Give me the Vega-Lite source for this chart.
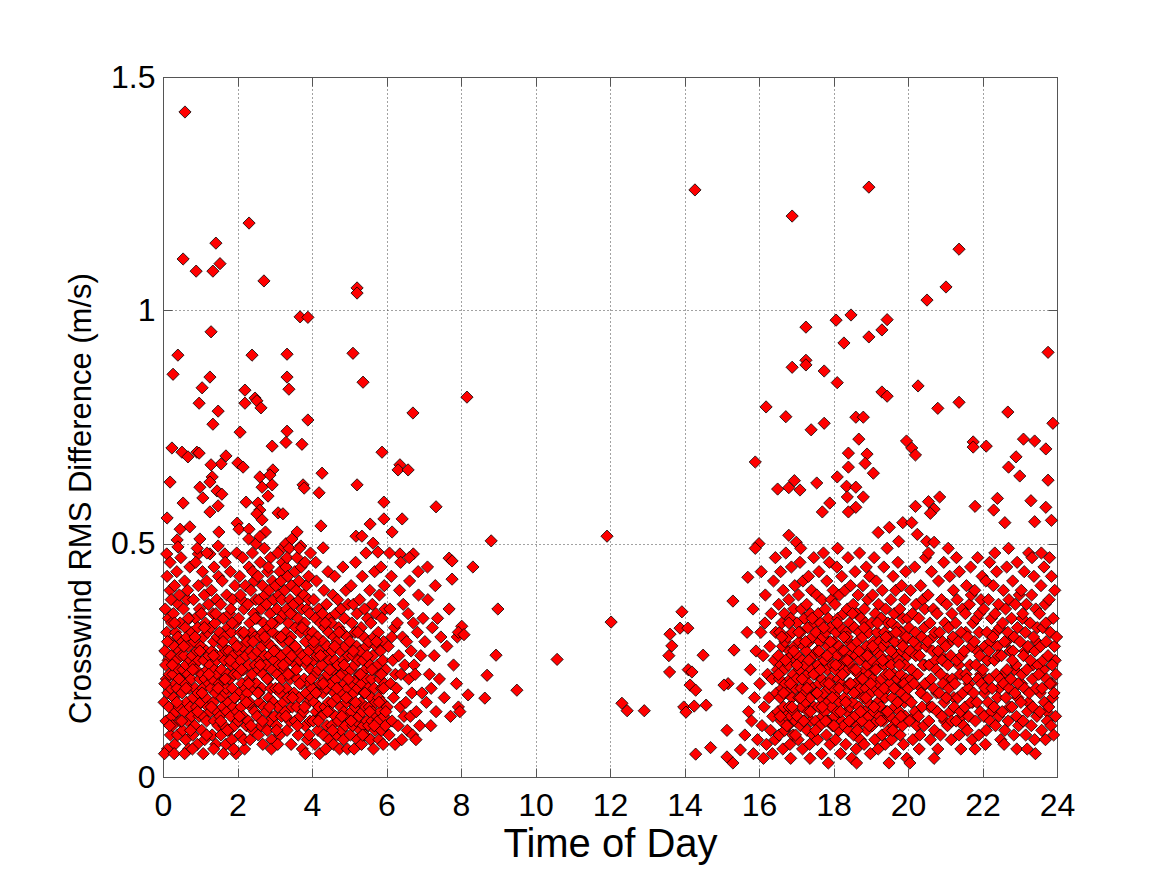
{
  "$schema": "https://vega.github.io/schema/vega-lite/v6.json",
  "width": 894,
  "height": 700,
  "autosize": {"type": "none"},
  "padding": {"left": 163, "top": 77, "right": 96, "bottom": 97},
  "background": "#ffffff",
  "config": {
    "font": "Liberation Sans",
    "view": {"stroke": "#555555", "strokeWidth": 1},
    "axis": {
      "labelFont": "Liberation Sans",
      "titleFont": "Liberation Sans",
      "labelFontSize": 32,
      "labelColor": "#000000",
      "titleColor": "#000000",
      "titleFontWeight": "normal",
      "domainColor": "#555555",
      "tickColor": "#555555",
      "tickSize": -9,
      "labelFlush": false,
      "labelOverlap": false,
      "gridColor": "#444444",
      "gridDash": [1, 3],
      "gridWidth": 1
    }
  },
  "data": {"values": [
{"t":0.59,"v":1.425},{"t":0.54,"v":1.11},{"t":0.89,"v":1.084},{"t":1.34,"v":1.084},{"t":1.42,"v":1.144},{"t":1.53,"v":1.10},{"t":1.29,"v":0.954},{"t":2.31,"v":1.187},{"t":2.71,"v":1.063},{"t":0.40,"v":0.904},{"t":2.39,"v":0.904},{"t":3.33,"v":0.906},{"t":3.68,"v":0.986},{"t":3.89,"v":0.985},{"t":5.21,"v":1.048},{"t":5.21,"v":1.037},{"t":5.10,"v":0.908},
{"t":0.27,"v":0.863},{"t":1.26,"v":0.857},{"t":3.33,"v":0.857},{"t":5.37,"v":0.846},{"t":1.05,"v":0.834},{"t":2.2,"v":0.829},{"t":3.38,"v":0.831},{"t":2.47,"v":0.812},{"t":2.52,"v":0.806},{"t":2.63,"v":0.791},{"t":0.97,"v":0.801},{"t":2.2,"v":0.801},{"t":1.48,"v":0.784},{"t":8.16,"v":0.814},{"t":1.34,"v":0.756},{"t":3.89,"v":0.765},{"t":6.71,"v":0.78},{"t":2.07,"v":0.739},{"t":3.33,"v":0.741},{"t":3.30,"v":0.717},{"t":2.93,"v":0.709},{"t":3.73,"v":0.713},{"t":0.24,"v":0.705},{"t":0.51,"v":0.696},{"t":0.67,"v":0.686},{"t":0.91,"v":0.696},{"t":0.97,"v":0.694},{"t":5.88,"v":0.696},{"t":1.69,"v":0.688},{"t":1.56,"v":0.671},{"t":1.29,"v":0.669},{"t":2.01,"v":0.673},{"t":2.15,"v":0.664},{"t":6.36,"v":0.669},{"t":6.31,"v":0.658},{"t":6.58,"v":0.658},{"t":4.27,"v":0.651},{"t":2.6,"v":0.643},{"t":2.95,"v":0.658},{"t":2.87,"v":0.647},{"t":1.32,"v":0.643},{"t":1.26,"v":0.632},{"t":0.19,"v":0.632},{"t":2.66,"v":0.621},{"t":2.93,"v":0.626},{"t":0.99,"v":0.621},{"t":3.76,"v":0.626},{"t":3.79,"v":0.619},{"t":5.21,"v":0.626},{"t":1.45,"v":0.613},{"t":1.58,"v":0.606},{"t":4.19,"v":0.609},{"t":1.07,"v":0.598},{"t":2.82,"v":0.602},{"t":0.54,"v":0.587},{"t":2.23,"v":0.589},{"t":2.55,"v":0.587},{"t":2.6,"v":0.572},{"t":1.48,"v":0.581},{"t":1.26,"v":0.568},{"t":5.93,"v":0.589},{"t":7.33,"v":0.579},{"t":3.09,"v":0.566},{"t":3.22,"v":0.564},{"t":0.11,"v":0.555},{"t":2.52,"v":0.564},{"t":2.66,"v":0.551},{"t":5.93,"v":0.553},{"t":6.42,"v":0.553},{"t":5.56,"v":0.542},{"t":0.46,"v":0.531},{"t":0.72,"v":0.536},{"t":4.24,"v":0.538},{"t":1.99,"v":0.544},{"t":2.04,"v":0.531},{"t":2.31,"v":0.531},{"t":1.5,"v":0.525},{"t":5.18,"v":0.516},{"t":5.34,"v":0.516},{"t":6.15,"v":0.525},{"t":0.99,"v":0.51},{"t":0.38,"v":0.508},{"t":0.40,"v":0.493},{"t":5.64,"v":0.501},{"t":5.77,"v":0.482},{"t":1.48,"v":0.495},{"t":4.3,"v":0.491},{"t":3.2,"v":0.49},{"t":3.3,"v":0.5},{"t":3.46,"v":0.51},{"t":3.6,"v":0.525},{"t":3.7,"v":0.495},{"t":2.3,"v":0.51},{"t":2.5,"v":0.5},{"t":2.75,"v":0.525},{"t":2.6,"v":0.515},{"t":0.1,"v":0.478},{"t":1.26,"v":0.478},{"t":1.66,"v":0.478},{"t":0.95,"v":0.478},{"t":6.36,"v":0.478},{"t":6.72,"v":0.478},{"t":7.68,"v":0.469},
{"t":0.03,"v":0.16},{"t":0.05,"v":0.27},{"t":0.06,"v":0.36},{"t":0.08,"v":0.12},{"t":0.09,"v":0.21},{"t":0.10,"v":0.31},{"t":0.11,"v":0.43},{"t":0.12,"v":0.06},{"t":0.13,"v":0.18},{"t":0.14,"v":0.25},{"t":0.15,"v":0.34},{"t":0.16,"v":0.15},{"t":0.17,"v":0.22},{"t":0.18,"v":0.29},{"t":0.19,"v":0.40},{"t":0.20,"v":0.09},{"t":0.21,"v":0.19},{"t":0.22,"v":0.26},{"t":0.23,"v":0.33},{"t":0.24,"v":0.13},{"t":0.04,"v":0.05},{"t":0.07,"v":0.24},{"t":0.19,"v":0.46},{"t":0.22,"v":0.38},
{"t":0.26,"v":0.11},{"t":0.27,"v":0.22},{"t":0.28,"v":0.35},{"t":0.29,"v":0.17},{"t":0.30,"v":0.28},{"t":0.31,"v":0.41},{"t":0.32,"v":0.07},{"t":0.33,"v":0.20},{"t":0.34,"v":0.31},{"t":0.35,"v":0.14},{"t":0.36,"v":0.25},{"t":0.37,"v":0.44},{"t":0.38,"v":0.19},{"t":0.39,"v":0.09},{"t":0.40,"v":0.30},{"t":0.41,"v":0.37},{"t":0.42,"v":0.23},{"t":0.43,"v":0.15},{"t":0.44,"v":0.27},{"t":0.45,"v":0.12},{"t":0.46,"v":0.33},{"t":0.47,"v":0.21},{"t":0.48,"v":0.47},{"t":0.49,"v":0.26},{"t":0.30,"v":0.05},{"t":0.44,"v":0.39},
{"t":0.51,"v":0.18},{"t":0.52,"v":0.29},{"t":0.53,"v":0.10},{"t":0.54,"v":0.23},{"t":0.55,"v":0.36},{"t":0.56,"v":0.14},{"t":0.57,"v":0.26},{"t":0.58,"v":0.42},{"t":0.59,"v":0.20},{"t":0.60,"v":0.32},{"t":0.61,"v":0.08},{"t":0.62,"v":0.24},{"t":0.63,"v":0.16},{"t":0.64,"v":0.30},{"t":0.65,"v":0.38},{"t":0.66,"v":0.12},{"t":0.67,"v":0.22},{"t":0.68,"v":0.28},{"t":0.69,"v":0.06},{"t":0.70,"v":0.19},{"t":0.71,"v":0.34},{"t":0.72,"v":0.45},{"t":0.73,"v":0.15},{"t":0.74,"v":0.25},{"t":0.58,"v":0.05},{"t":0.66,"v":0.40},
{"t":0.76,"v":0.21},{"t":0.77,"v":0.13},{"t":0.78,"v":0.31},{"t":0.79,"v":0.26},{"t":0.80,"v":0.09},{"t":0.81,"v":0.17},{"t":0.82,"v":0.38},{"t":0.83,"v":0.24},{"t":0.84,"v":0.29},{"t":0.85,"v":0.11},{"t":0.86,"v":0.19},{"t":0.87,"v":0.34},{"t":0.88,"v":0.46},{"t":0.89,"v":0.23},{"t":0.90,"v":0.15},{"t":0.91,"v":0.27},{"t":0.92,"v":0.07},{"t":0.93,"v":0.32},{"t":0.94,"v":0.18},{"t":0.95,"v":0.41},{"t":0.96,"v":0.25},{"t":0.97,"v":0.13},{"t":0.98,"v":0.36},{"t":0.99,"v":0.21},{"t":0.79,"v":0.06},{"t":0.92,"v":0.49},
{"t":1.01,"v":0.16},{"t":1.02,"v":0.28},{"t":1.03,"v":0.35},{"t":1.04,"v":0.10},{"t":1.05,"v":0.22},{"t":1.06,"v":0.44},{"t":1.07,"v":0.19},{"t":1.08,"v":0.30},{"t":1.09,"v":0.13},{"t":1.10,"v":0.25},{"t":1.11,"v":0.39},{"t":1.12,"v":0.08},{"t":1.13,"v":0.21},{"t":1.14,"v":0.33},{"t":1.15,"v":0.17},{"t":1.16,"v":0.27},{"t":1.17,"v":0.12},{"t":1.18,"v":0.48},{"t":1.19,"v":0.23},{"t":1.20,"v":0.31},{"t":1.21,"v":0.15},{"t":1.22,"v":0.37},{"t":1.23,"v":0.26},{"t":1.24,"v":0.20},{"t":1.08,"v":0.05},{"t":1.17,"v":0.42},
{"t":1.26,"v":0.24},{"t":1.27,"v":0.14},{"t":1.28,"v":0.32},{"t":1.29,"v":0.19},{"t":1.30,"v":0.40},{"t":1.31,"v":0.27},{"t":1.32,"v":0.09},{"t":1.33,"v":0.21},{"t":1.34,"v":0.35},{"t":1.35,"v":0.16},{"t":1.36,"v":0.29},{"t":1.37,"v":0.45},{"t":1.38,"v":0.12},{"t":1.39,"v":0.23},{"t":1.40,"v":0.33},{"t":1.41,"v":0.18},{"t":1.42,"v":0.07},{"t":1.43,"v":0.26},{"t":1.44,"v":0.38},{"t":1.45,"v":0.14},{"t":1.46,"v":0.30},{"t":1.47,"v":0.22},{"t":1.48,"v":0.11},{"t":1.49,"v":0.43},{"t":1.36,"v":0.06},{"t":1.44,"v":0.25},
{"t":1.51,"v":0.20},{"t":1.52,"v":0.31},{"t":1.53,"v":0.13},{"t":1.54,"v":0.26},{"t":1.55,"v":0.37},{"t":1.56,"v":0.09},{"t":1.57,"v":0.23},{"t":1.58,"v":0.17},{"t":1.59,"v":0.42},{"t":1.60,"v":0.28},{"t":1.61,"v":0.15},{"t":1.62,"v":0.34},{"t":1.63,"v":0.21},{"t":1.64,"v":0.11},{"t":1.65,"v":0.30},{"t":1.66,"v":0.25},{"t":1.67,"v":0.46},{"t":1.68,"v":0.18},{"t":1.69,"v":0.07},{"t":1.70,"v":0.27},{"t":1.71,"v":0.39},{"t":1.72,"v":0.14},{"t":1.73,"v":0.22},{"t":1.74,"v":0.32},{"t":1.62,"v":0.05},{"t":1.70,"v":0.19},
{"t":1.76,"v":0.16},{"t":1.77,"v":0.27},{"t":1.78,"v":0.10},{"t":1.79,"v":0.35},{"t":1.80,"v":0.21},{"t":1.81,"v":0.44},{"t":1.82,"v":0.13},{"t":1.83,"v":0.24},{"t":1.84,"v":0.31},{"t":1.85,"v":0.08},{"t":1.86,"v":0.19},{"t":1.87,"v":0.38},{"t":1.88,"v":0.26},{"t":1.89,"v":0.15},{"t":1.90,"v":0.29},{"t":1.91,"v":0.22},{"t":1.92,"v":0.11},{"t":1.93,"v":0.41},{"t":1.94,"v":0.17},{"t":1.95,"v":0.33},{"t":1.96,"v":0.05},{"t":1.97,"v":0.24},{"t":1.98,"v":0.48},{"t":1.99,"v":0.14},{"t":1.82,"v":0.36},{"t":1.90,"v":0.06},
{"t":2.01,"v":0.22},{"t":2.02,"v":0.12},{"t":2.03,"v":0.34},{"t":2.04,"v":0.27},{"t":2.05,"v":0.18},{"t":2.06,"v":0.43},{"t":2.07,"v":0.09},{"t":2.08,"v":0.25},{"t":2.09,"v":0.31},{"t":2.10,"v":0.15},{"t":2.11,"v":0.38},{"t":2.12,"v":0.20},{"t":2.13,"v":0.28},{"t":2.14,"v":0.47},{"t":2.15,"v":0.13},{"t":2.16,"v":0.23},{"t":2.17,"v":0.36},{"t":2.18,"v":0.17},{"t":2.19,"v":0.06},{"t":2.20,"v":0.30},{"t":2.21,"v":0.41},{"t":2.22,"v":0.19},{"t":2.23,"v":0.26},{"t":2.24,"v":0.11},{"t":2.08,"v":0.39},{"t":2.17,"v":0.08},
{"t":2.26,"v":0.29},{"t":2.27,"v":0.18},{"t":2.28,"v":0.37},{"t":2.29,"v":0.12},{"t":2.30,"v":0.24},{"t":2.31,"v":0.45},{"t":2.32,"v":0.21},{"t":2.33,"v":0.33},{"t":2.34,"v":0.08},{"t":2.35,"v":0.27},{"t":2.36,"v":0.40},{"t":2.37,"v":0.15},{"t":2.38,"v":0.31},{"t":2.39,"v":0.22},{"t":2.40,"v":0.48},{"t":2.41,"v":0.10},{"t":2.42,"v":0.26},{"t":2.43,"v":0.35},{"t":2.44,"v":0.19},{"t":2.45,"v":0.42},{"t":2.46,"v":0.14},{"t":2.47,"v":0.30},{"t":2.48,"v":0.24},{"t":2.49,"v":0.38},{"t":2.33,"v":0.16},{"t":2.41,"v":0.44},
{"t":2.51,"v":0.20},{"t":2.52,"v":0.34},{"t":2.53,"v":0.13},{"t":2.54,"v":0.27},{"t":2.55,"v":0.43},{"t":2.56,"v":0.09},{"t":2.57,"v":0.23},{"t":2.58,"v":0.38},{"t":2.59,"v":0.16},{"t":2.60,"v":0.30},{"t":2.61,"v":0.46},{"t":2.62,"v":0.25},{"t":2.63,"v":0.11},{"t":2.64,"v":0.36},{"t":2.65,"v":0.19},{"t":2.66,"v":0.28},{"t":2.67,"v":0.41},{"t":2.68,"v":0.07},{"t":2.69,"v":0.22},{"t":2.70,"v":0.33},{"t":2.71,"v":0.15},{"t":2.72,"v":0.49},{"t":2.73,"v":0.26},{"t":2.74,"v":0.39},{"t":2.58,"v":0.18},{"t":2.68,"v":0.31},
{"t":2.76,"v":0.24},{"t":2.77,"v":0.14},{"t":2.78,"v":0.37},{"t":2.79,"v":0.29},{"t":2.80,"v":0.10},{"t":2.81,"v":0.44},{"t":2.82,"v":0.21},{"t":2.83,"v":0.32},{"t":2.84,"v":0.17},{"t":2.85,"v":0.40},{"t":2.86,"v":0.26},{"t":2.87,"v":0.12},{"t":2.88,"v":0.35},{"t":2.89,"v":0.47},{"t":2.90,"v":0.19},{"t":2.91,"v":0.28},{"t":2.92,"v":0.08},{"t":2.93,"v":0.23},{"t":2.94,"v":0.42},{"t":2.95,"v":0.31},{"t":2.96,"v":0.16},{"t":2.97,"v":0.38},{"t":2.98,"v":0.25},{"t":2.99,"v":0.13},{"t":2.83,"v":0.45},{"t":2.91,"v":0.06},
{"t":3.01,"v":0.33},{"t":3.02,"v":0.19},{"t":3.03,"v":0.41},{"t":3.04,"v":0.27},{"t":3.05,"v":0.11},{"t":3.06,"v":0.36},{"t":3.07,"v":0.22},{"t":3.08,"v":0.48},{"t":3.09,"v":0.15},{"t":3.10,"v":0.30},{"t":3.11,"v":0.39},{"t":3.12,"v":0.24},{"t":3.13,"v":0.09},{"t":3.14,"v":0.44},{"t":3.15,"v":0.18},{"t":3.16,"v":0.34},{"t":3.17,"v":0.26},{"t":3.18,"v":0.13},{"t":3.19,"v":0.38},{"t":3.20,"v":0.21},{"t":3.21,"v":0.46},{"t":3.22,"v":0.29},{"t":3.23,"v":0.16},{"t":3.24,"v":0.35},{"t":3.08,"v":0.07},{"t":3.17,"v":0.42},
{"t":3.26,"v":0.23},{"t":3.27,"v":0.40},{"t":3.28,"v":0.14},{"t":3.29,"v":0.31},{"t":3.30,"v":0.45},{"t":3.31,"v":0.19},{"t":3.32,"v":0.36},{"t":3.33,"v":0.10},{"t":3.34,"v":0.27},{"t":3.35,"v":0.43},{"t":3.36,"v":0.17},{"t":3.37,"v":0.33},{"t":3.38,"v":0.25},{"t":3.39,"v":0.49},{"t":3.40,"v":0.12},{"t":3.41,"v":0.38},{"t":3.42,"v":0.21},{"t":3.43,"v":0.30},{"t":3.44,"v":0.07},{"t":3.45,"v":0.41},{"t":3.46,"v":0.26},{"t":3.47,"v":0.15},{"t":3.48,"v":0.35},{"t":3.49,"v":0.22},{"t":3.33,"v":0.47},{"t":3.40,"v":0.29},
{"t":3.51,"v":0.37},{"t":3.52,"v":0.18},{"t":3.53,"v":0.28},{"t":3.54,"v":0.44},{"t":3.55,"v":0.12},{"t":3.56,"v":0.32},{"t":3.57,"v":0.24},{"t":3.58,"v":0.40},{"t":3.59,"v":0.15},{"t":3.60,"v":0.47},{"t":3.61,"v":0.21},{"t":3.62,"v":0.34},{"t":3.63,"v":0.09},{"t":3.64,"v":0.27},{"t":3.65,"v":0.42},{"t":3.66,"v":0.17},{"t":3.67,"v":0.38},{"t":3.68,"v":0.25},{"t":3.69,"v":0.13},{"t":3.70,"v":0.31},{"t":3.71,"v":0.45},{"t":3.72,"v":0.20},{"t":3.73,"v":0.36},{"t":3.74,"v":0.06},{"t":3.58,"v":0.23},{"t":3.66,"v":0.49},
{"t":3.76,"v":0.26},{"t":3.77,"v":0.14},{"t":3.78,"v":0.39},{"t":3.79,"v":0.21},{"t":3.80,"v":0.33},{"t":3.81,"v":0.46},{"t":3.82,"v":0.11},{"t":3.83,"v":0.29},{"t":3.84,"v":0.18},{"t":3.85,"v":0.41},{"t":3.86,"v":0.24},{"t":3.87,"v":0.36},{"t":3.88,"v":0.08},{"t":3.89,"v":0.31},{"t":3.90,"v":0.16},{"t":3.91,"v":0.43},{"t":3.92,"v":0.27},{"t":3.93,"v":0.20},{"t":3.94,"v":0.35},{"t":3.95,"v":0.12},{"t":3.96,"v":0.48},{"t":3.97,"v":0.23},{"t":3.98,"v":0.30},{"t":3.99,"v":0.17},{"t":3.82,"v":0.05},{"t":3.91,"v":0.38},
{"t":4.01,"v":0.19},{"t":4.02,"v":0.31},{"t":4.03,"v":0.12},{"t":4.04,"v":0.25},{"t":4.05,"v":0.38},{"t":4.06,"v":0.16},{"t":4.07,"v":0.28},{"t":4.08,"v":0.07},{"t":4.09,"v":0.22},{"t":4.10,"v":0.34},{"t":4.11,"v":0.14},{"t":4.12,"v":0.42},{"t":4.13,"v":0.26},{"t":4.14,"v":0.18},{"t":4.15,"v":0.30},{"t":4.16,"v":0.10},{"t":4.17,"v":0.23},{"t":4.18,"v":0.36},{"t":4.19,"v":0.15},{"t":4.20,"v":0.27},{"t":4.21,"v":0.05},{"t":4.22,"v":0.20},{"t":4.23,"v":0.33},{"t":4.24,"v":0.13},{"t":4.10,"v":0.46},
{"t":4.26,"v":0.24},{"t":4.27,"v":0.13},{"t":4.28,"v":0.35},{"t":4.29,"v":0.18},{"t":4.30,"v":0.29},{"t":4.31,"v":0.09},{"t":4.32,"v":0.40},{"t":4.33,"v":0.21},{"t":4.34,"v":0.32},{"t":4.35,"v":0.15},{"t":4.36,"v":0.26},{"t":4.37,"v":0.06},{"t":4.38,"v":0.19},{"t":4.39,"v":0.37},{"t":4.40,"v":0.11},{"t":4.41,"v":0.28},{"t":4.42,"v":0.22},{"t":4.43,"v":0.44},{"t":4.44,"v":0.16},{"t":4.45,"v":0.31},{"t":4.46,"v":0.08},{"t":4.47,"v":0.25},{"t":4.48,"v":0.34},{"t":4.49,"v":0.14},
{"t":4.51,"v":0.20},{"t":4.52,"v":0.33},{"t":4.53,"v":0.11},{"t":4.54,"v":0.27},{"t":4.55,"v":0.16},{"t":4.56,"v":0.39},{"t":4.57,"v":0.23},{"t":4.58,"v":0.07},{"t":4.59,"v":0.30},{"t":4.60,"v":0.18},{"t":4.61,"v":0.43},{"t":4.62,"v":0.25},{"t":4.63,"v":0.13},{"t":4.64,"v":0.35},{"t":4.65,"v":0.21},{"t":4.66,"v":0.09},{"t":4.67,"v":0.29},{"t":4.68,"v":0.17},{"t":4.69,"v":0.38},{"t":4.70,"v":0.24},{"t":4.71,"v":0.12},{"t":4.72,"v":0.32},{"t":4.73,"v":0.19},{"t":4.74,"v":0.06},
{"t":4.76,"v":0.27},{"t":4.77,"v":0.15},{"t":4.78,"v":0.36},{"t":4.79,"v":0.10},{"t":4.80,"v":0.22},{"t":4.81,"v":0.31},{"t":4.82,"v":0.18},{"t":4.83,"v":0.45},{"t":4.84,"v":0.25},{"t":4.85,"v":0.08},{"t":4.86,"v":0.14},{"t":4.87,"v":0.34},{"t":4.88,"v":0.20},{"t":4.89,"v":0.28},{"t":4.90,"v":0.11},{"t":4.91,"v":0.40},{"t":4.92,"v":0.23},{"t":4.93,"v":0.16},{"t":4.94,"v":0.30},{"t":4.95,"v":0.06},{"t":4.96,"v":0.19},{"t":4.97,"v":0.37},{"t":4.98,"v":0.26},{"t":4.99,"v":0.13},
{"t":5.01,"v":0.17},{"t":5.02,"v":0.29},{"t":5.03,"v":0.09},{"t":5.04,"v":0.23},{"t":5.05,"v":0.41},{"t":5.06,"v":0.14},{"t":5.07,"v":0.33},{"t":5.08,"v":0.20},{"t":5.09,"v":0.26},{"t":5.10,"v":0.11},{"t":5.11,"v":0.37},{"t":5.12,"v":0.18},{"t":5.13,"v":0.06},{"t":5.14,"v":0.24},{"t":5.15,"v":0.31},{"t":5.16,"v":0.15},{"t":5.17,"v":0.46},{"t":5.18,"v":0.21},{"t":5.19,"v":0.12},{"t":5.20,"v":0.28},{"t":5.21,"v":0.35},{"t":5.22,"v":0.08},{"t":5.23,"v":0.19},{"t":5.24,"v":0.25},
{"t":5.26,"v":0.13},{"t":5.27,"v":0.22},{"t":5.28,"v":0.38},{"t":5.29,"v":0.10},{"t":5.30,"v":0.27},{"t":5.31,"v":0.16},{"t":5.32,"v":0.32},{"t":5.33,"v":0.07},{"t":5.34,"v":0.20},{"t":5.35,"v":0.43},{"t":5.36,"v":0.14},{"t":5.37,"v":0.25},{"t":5.38,"v":0.11},{"t":5.39,"v":0.30},{"t":5.40,"v":0.18},{"t":5.41,"v":0.36},{"t":5.42,"v":0.09},{"t":5.43,"v":0.23},{"t":5.44,"v":0.15},{"t":5.45,"v":0.48},{"t":5.46,"v":0.28},{"t":5.47,"v":0.12},{"t":5.48,"v":0.21},{"t":5.49,"v":0.34},
{"t":5.51,"v":0.19},{"t":5.52,"v":0.11},{"t":5.53,"v":0.29},{"t":5.54,"v":0.15},{"t":5.55,"v":0.40},{"t":5.56,"v":0.24},{"t":5.57,"v":0.08},{"t":5.58,"v":0.33},{"t":5.59,"v":0.17},{"t":5.60,"v":0.21},{"t":5.61,"v":0.12},{"t":5.62,"v":0.37},{"t":5.63,"v":0.26},{"t":5.64,"v":0.14},{"t":5.65,"v":0.06},{"t":5.66,"v":0.30},{"t":5.67,"v":0.19},{"t":5.68,"v":0.44},{"t":5.69,"v":0.10},{"t":5.70,"v":0.23},{"t":5.71,"v":0.16},{"t":5.72,"v":0.35},{"t":5.73,"v":0.28},{"t":5.74,"v":0.13},
{"t":5.76,"v":0.24},{"t":5.77,"v":0.12},{"t":5.78,"v":0.31},{"t":5.79,"v":0.17},{"t":5.80,"v":0.08},{"t":5.81,"v":0.39},{"t":5.82,"v":0.21},{"t":5.83,"v":0.14},{"t":5.84,"v":0.27},{"t":5.85,"v":0.45},{"t":5.86,"v":0.10},{"t":5.87,"v":0.19},{"t":5.88,"v":0.34},{"t":5.89,"v":0.16},{"t":5.90,"v":0.25},{"t":5.91,"v":0.07},{"t":5.92,"v":0.29},{"t":5.93,"v":0.13},{"t":5.94,"v":0.41},{"t":5.95,"v":0.20},{"t":5.96,"v":0.36},{"t":5.97,"v":0.11},{"t":5.98,"v":0.23},
{"t":6.02,"v":0.15},{"t":6.05,"v":0.28},{"t":6.07,"v":0.09},{"t":6.09,"v":0.36},{"t":6.11,"v":0.20},{"t":6.13,"v":0.43},{"t":6.15,"v":0.12},{"t":6.17,"v":0.25},{"t":6.19,"v":0.17},{"t":6.21,"v":0.32},{"t":6.23,"v":0.07},{"t":6.24,"v":0.22},{"t":6.08,"v":0.48},{"t":6.14,"v":0.30},
{"t":6.27,"v":0.19},{"t":6.29,"v":0.33},{"t":6.31,"v":0.11},{"t":6.33,"v":0.26},{"t":6.35,"v":0.40},{"t":6.37,"v":0.15},{"t":6.39,"v":0.22},{"t":6.41,"v":0.08},{"t":6.43,"v":0.30},{"t":6.45,"v":0.37},{"t":6.47,"v":0.13},{"t":6.49,"v":0.24},{"t":6.38,"v":0.46},
{"t":6.52,"v":0.16},{"t":6.54,"v":0.29},{"t":6.56,"v":0.10},{"t":6.58,"v":0.35},{"t":6.60,"v":0.21},{"t":6.62,"v":0.42},{"t":6.64,"v":0.13},{"t":6.66,"v":0.27},{"t":6.68,"v":0.18},{"t":6.70,"v":0.09},{"t":6.72,"v":0.33},{"t":6.74,"v":0.24},{"t":6.61,"v":0.47},
{"t":6.77,"v":0.22},{"t":6.80,"v":0.14},{"t":6.83,"v":0.31},{"t":6.86,"v":0.39},{"t":6.89,"v":0.11},{"t":6.92,"v":0.26},{"t":6.95,"v":0.18},{"t":6.98,"v":0.34},{"t":6.85,"v":0.44},{"t":6.79,"v":0.08},
{"t":7.03,"v":0.29},{"t":7.07,"v":0.16},{"t":7.11,"v":0.38},{"t":7.15,"v":0.22},{"t":7.19,"v":0.11},{"t":7.23,"v":0.32},{"t":7.10,"v":0.45},{"t":7.20,"v":0.19},
{"t":7.28,"v":0.26},{"t":7.33,"v":0.14},{"t":7.37,"v":0.34},{"t":7.42,"v":0.21},{"t":7.46,"v":0.30},{"t":7.31,"v":0.41},
{"t":7.55,"v":0.17},{"t":7.62,"v":0.28},{"t":7.68,"v":0.36},{"t":7.72,"v":0.13},{"t":7.80,"v":0.24},{"t":7.88,"v":0.20},
{"t":0.05,"v":0.20},{"t":0.12,"v":0.29},{"t":0.18,"v":0.11},{"t":0.25,"v":0.24},{"t":0.31,"v":0.33},{"t":0.37,"v":0.16},{"t":0.43,"v":0.21},{"t":0.50,"v":0.12},{"t":0.56,"v":0.28},{"t":0.62,"v":0.19},{"t":0.68,"v":0.34},{"t":0.74,"v":0.10},{"t":0.80,"v":0.23},{"t":0.86,"v":0.30},{"t":0.93,"v":0.14},{"t":0.99,"v":0.27},{"t":1.05,"v":0.18},{"t":1.11,"v":0.32},{"t":1.17,"v":0.09},{"t":1.23,"v":0.22},{"t":1.30,"v":0.15},{"t":1.36,"v":0.26},{"t":1.42,"v":0.35},{"t":1.48,"v":0.19},{"t":1.55,"v":0.12},{"t":1.61,"v":0.29},{"t":1.67,"v":0.21},{"t":1.73,"v":0.10},{"t":1.80,"v":0.25},{"t":1.86,"v":0.33},{"t":1.92,"v":0.17},{"t":1.98,"v":0.28},{"t":2.05,"v":0.13},{"t":2.11,"v":0.23},{"t":2.17,"v":0.31},{"t":2.24,"v":0.16},{"t":2.30,"v":0.20},{"t":2.36,"v":0.11},{"t":2.42,"v":0.29},{"t":2.48,"v":0.34},{"t":2.55,"v":0.18},{"t":2.61,"v":0.24},{"t":2.67,"v":0.12},{"t":2.73,"v":0.30},{"t":2.80,"v":0.21},{"t":2.86,"v":0.15},{"t":2.92,"v":0.33},{"t":2.98,"v":0.27},{"t":3.05,"v":0.10},{"t":3.11,"v":0.19},{"t":3.17,"v":0.30},{"t":3.23,"v":0.24},{"t":3.30,"v":0.13},{"t":3.36,"v":0.22},{"t":3.42,"v":0.35},{"t":3.48,"v":0.17},{"t":3.55,"v":0.28},{"t":3.61,"v":0.11},{"t":3.67,"v":0.20},{"t":3.73,"v":0.32},{"t":3.80,"v":0.15},{"t":3.86,"v":0.25},{"t":3.92,"v":0.09},{"t":3.98,"v":0.21},{"t":4.05,"v":0.29},{"t":4.11,"v":0.18},{"t":4.17,"v":0.12},{"t":4.23,"v":0.26},{"t":4.30,"v":0.20},{"t":4.36,"v":0.33},{"t":4.42,"v":0.14},{"t":4.48,"v":0.23},{"t":4.55,"v":0.10},{"t":4.61,"v":0.28},{"t":4.67,"v":0.19},{"t":4.73,"v":0.31},{"t":4.80,"v":0.13},{"t":4.86,"v":0.24},{"t":4.92,"v":0.17},{"t":4.98,"v":0.21},{"t":5.05,"v":0.12},{"t":5.11,"v":0.27},{"t":5.17,"v":0.16},{"t":5.23,"v":0.31},{"t":5.30,"v":0.22},{"t":5.36,"v":0.09},{"t":5.42,"v":0.18},{"t":5.48,"v":0.26},{"t":5.55,"v":0.14},{"t":5.61,"v":0.23},{"t":5.67,"v":0.11},{"t":5.73,"v":0.29},{"t":5.80,"v":0.16},{"t":5.86,"v":0.22},{"t":5.92,"v":0.19},{"t":5.98,"v":0.14},
{"t":8.81,"v":0.506},{"t":11.92,"v":0.516},{"t":7.76,"v":0.463},{"t":8.32,"v":0.45},{"t":7.76,"v":0.424},{"t":8.99,"v":0.36},{"t":12.03,"v":0.332},{"t":13.93,"v":0.354},{"t":13.61,"v":0.306},{"t":13.88,"v":0.319},{"t":14.09,"v":0.319},{"t":8.02,"v":0.323},{"t":7.9,"v":0.30},{"t":7.93,"v":0.31},{"t":8.08,"v":0.305},{"t":13.66,"v":0.281},{"t":13.58,"v":0.26},{"t":8.94,"v":0.261},{"t":10.58,"v":0.252},{"t":14.5,"v":0.261},{"t":15.33,"v":0.272},{"t":13.6,"v":0.225},{"t":8.70,"v":0.218},{"t":14.1,"v":0.23},{"t":14.2,"v":0.225},{"t":15.17,"v":0.20},{"t":15.06,"v":0.197},{"t":14.15,"v":0.197},{"t":14.3,"v":0.186},{"t":9.5,"v":0.186},{"t":8.19,"v":0.176},{"t":8.64,"v":0.169},{"t":12.32,"v":0.158},{"t":12.46,"v":0.142},{"t":12.92,"v":0.142},{"t":7.93,"v":0.15},{"t":7.97,"v":0.14},{"t":13.98,"v":0.15},{"t":14.04,"v":0.139},{"t":14.26,"v":0.152},{"t":14.58,"v":0.154},{"t":15.14,"v":0.10},{"t":14.3,"v":0.049},{"t":14.7,"v":0.063},{"t":15.14,"v":0.043},{"t":15.3,"v":0.030},{"t":15.5,"v":0.058},{"t":15.7,"v":0.428},{"t":14.28,"v":1.258},
{"t":18.95,"v":1.264},{"t":16.89,"v":1.202},{"t":21.37,"v":1.131},{"t":21.02,"v":1.050},{"t":20.51,"v":1.022},{"t":18.47,"v":0.99},{"t":18.07,"v":0.979},{"t":19.44,"v":0.98},{"t":17.26,"v":0.964},{"t":19.30,"v":0.958},{"t":18.95,"v":0.943},{"t":18.28,"v":0.93},{"t":23.76,"v":0.91},{"t":17.26,"v":0.893},
{"t":16.89,"v":0.878},{"t":17.26,"v":0.883},{"t":17.75,"v":0.87},{"t":18.1,"v":0.845},{"t":20.27,"v":0.838},{"t":19.3,"v":0.825},{"t":19.44,"v":0.816},{"t":16.19,"v":0.793},{"t":16.72,"v":0.772},{"t":20.8,"v":0.79},{"t":21.37,"v":0.803},{"t":22.68,"v":0.782},{"t":23.89,"v":0.758},{"t":17.75,"v":0.758},{"t":17.4,"v":0.744},{"t":18.6,"v":0.771},{"t":18.8,"v":0.771},{"t":18.68,"v":0.724},{"t":19.96,"v":0.72},{"t":20.1,"v":0.705},{"t":20.2,"v":0.69},{"t":21.75,"v":0.718},{"t":21.75,"v":0.707},{"t":22.1,"v":0.709},{"t":23.1,"v":0.724},{"t":23.4,"v":0.72},{"t":23.7,"v":0.703},{"t":22.9,"v":0.686},{"t":22.7,"v":0.664},{"t":23.0,"v":0.645},{"t":23.76,"v":0.636},{"t":15.9,"v":0.675},{"t":18.4,"v":0.694},{"t":18.9,"v":0.692},{"t":18.4,"v":0.664},{"t":18.85,"v":0.672},{"t":19.07,"v":0.651},{"t":18.1,"v":0.643},{"t":17.55,"v":0.63},{"t":16.8,"v":0.62},{"t":16.95,"v":0.635},{"t":17.1,"v":0.615},{"t":16.5,"v":0.617},{"t":18.35,"v":0.623},{"t":18.6,"v":0.621},{"t":18.37,"v":0.6},{"t":18.8,"v":0.6},{"t":18.6,"v":0.578},{"t":17.9,"v":0.587},{"t":17.7,"v":0.568},{"t":18.4,"v":0.568},{"t":20.2,"v":0.58},{"t":20.55,"v":0.59},{"t":20.7,"v":0.574},{"t":20.85,"v":0.6},{"t":20.6,"v":0.565},{"t":21.8,"v":0.58},{"t":22.4,"v":0.597},{"t":22.3,"v":0.572},{"t":22.6,"v":0.545},{"t":23.3,"v":0.592},{"t":23.4,"v":0.547},{"t":23.7,"v":0.578},{"t":23.85,"v":0.55},{"t":19.86,"v":0.545},{"t":20.1,"v":0.545},{"t":20.25,"v":0.52},{"t":20.5,"v":0.505},{"t":20.7,"v":0.503},{"t":19.2,"v":0.524},{"t":19.5,"v":0.535},{"t":19.75,"v":0.505},{"t":16.8,"v":0.518},{"t":17.0,"v":0.503},{"t":16.0,"v":0.5},{"t":15.9,"v":0.49},{"t":15.3,"v":0.377},
{"t":15.55,"v":0.19},{"t":15.62,"v":0.09},{"t":15.68,"v":0.31},{"t":15.72,"v":0.14},
{"t":15.77,"v":0.23},{"t":15.80,"v":0.12},{"t":15.84,"v":0.36},{"t":15.88,"v":0.17},{"t":15.92,"v":0.27},{"t":15.96,"v":0.08},{"t":15.85,"v":0.05},
{"t":16.02,"v":0.20},{"t":16.05,"v":0.31},{"t":16.08,"v":0.11},{"t":16.11,"v":0.26},{"t":16.14,"v":0.15},{"t":16.17,"v":0.39},{"t":16.20,"v":0.07},{"t":16.23,"v":0.22},{"t":16.06,"v":0.44},{"t":16.16,"v":0.33},{"t":16.12,"v":0.04},
{"t":16.27,"v":0.17},{"t":16.29,"v":0.28},{"t":16.31,"v":0.10},{"t":16.33,"v":0.35},{"t":16.35,"v":0.21},{"t":16.37,"v":0.13},{"t":16.39,"v":0.42},{"t":16.41,"v":0.25},{"t":16.43,"v":0.08},{"t":16.45,"v":0.31},{"t":16.47,"v":0.18},{"t":16.49,"v":0.23},{"t":16.36,"v":0.05},{"t":16.44,"v":0.47},
{"t":16.51,"v":0.14},{"t":16.52,"v":0.26},{"t":16.53,"v":0.37},{"t":16.54,"v":0.09},{"t":16.55,"v":0.21},{"t":16.56,"v":0.31},{"t":16.57,"v":0.17},{"t":16.58,"v":0.44},{"t":16.59,"v":0.24},{"t":16.60,"v":0.12},{"t":16.61,"v":0.33},{"t":16.62,"v":0.19},{"t":16.63,"v":0.28},{"t":16.64,"v":0.06},{"t":16.65,"v":0.40},{"t":16.66,"v":0.15},{"t":16.67,"v":0.23},{"t":16.68,"v":0.35},{"t":16.69,"v":0.10},{"t":16.70,"v":0.29},{"t":16.71,"v":0.20},{"t":16.72,"v":0.48},{"t":16.73,"v":0.13},{"t":16.74,"v":0.25},
{"t":16.76,"v":0.18},{"t":16.77,"v":0.30},{"t":16.78,"v":0.11},{"t":16.79,"v":0.24},{"t":16.80,"v":0.38},{"t":16.81,"v":0.15},{"t":16.82,"v":0.27},{"t":16.83,"v":0.07},{"t":16.84,"v":0.21},{"t":16.85,"v":0.34},{"t":16.86,"v":0.13},{"t":16.87,"v":0.45},{"t":16.88,"v":0.26},{"t":16.89,"v":0.17},{"t":16.90,"v":0.31},{"t":16.91,"v":0.09},{"t":16.92,"v":0.22},{"t":16.93,"v":0.36},{"t":16.94,"v":0.14},{"t":16.95,"v":0.28},{"t":16.96,"v":0.41},{"t":16.97,"v":0.19},{"t":16.98,"v":0.12},{"t":16.99,"v":0.25},{"t":16.85,"v":0.04},
{"t":17.01,"v":0.21},{"t":17.02,"v":0.33},{"t":17.03,"v":0.13},{"t":17.04,"v":0.26},{"t":17.05,"v":0.08},{"t":17.06,"v":0.39},{"t":17.07,"v":0.17},{"t":17.08,"v":0.29},{"t":17.09,"v":0.23},{"t":17.10,"v":0.46},{"t":17.11,"v":0.11},{"t":17.12,"v":0.31},{"t":17.13,"v":0.19},{"t":17.14,"v":0.36},{"t":17.15,"v":0.15},{"t":17.16,"v":0.25},{"t":17.17,"v":0.06},{"t":17.18,"v":0.42},{"t":17.19,"v":0.21},{"t":17.20,"v":0.28},{"t":17.21,"v":0.12},{"t":17.22,"v":0.34},{"t":17.23,"v":0.18},{"t":17.24,"v":0.24},{"t":17.12,"v":0.49},
{"t":17.26,"v":0.16},{"t":17.27,"v":0.27},{"t":17.28,"v":0.37},{"t":17.29,"v":0.10},{"t":17.30,"v":0.22},{"t":17.31,"v":0.32},{"t":17.32,"v":0.14},{"t":17.33,"v":0.43},{"t":17.34,"v":0.20},{"t":17.35,"v":0.29},{"t":17.36,"v":0.07},{"t":17.37,"v":0.25},{"t":17.38,"v":0.35},{"t":17.39,"v":0.17},{"t":17.40,"v":0.12},{"t":17.41,"v":0.40},{"t":17.42,"v":0.23},{"t":17.43,"v":0.30},{"t":17.44,"v":0.19},{"t":17.45,"v":0.09},{"t":17.46,"v":0.26},{"t":17.47,"v":0.47},{"t":17.48,"v":0.15},{"t":17.49,"v":0.33},{"t":17.37,"v":0.04},
{"t":17.51,"v":0.22},{"t":17.52,"v":0.12},{"t":17.53,"v":0.31},{"t":17.54,"v":0.18},{"t":17.55,"v":0.39},{"t":17.56,"v":0.27},{"t":17.57,"v":0.08},{"t":17.58,"v":0.24},{"t":17.59,"v":0.35},{"t":17.60,"v":0.15},{"t":17.61,"v":0.44},{"t":17.62,"v":0.20},{"t":17.63,"v":0.29},{"t":17.64,"v":0.11},{"t":17.65,"v":0.33},{"t":17.66,"v":0.17},{"t":17.67,"v":0.26},{"t":17.68,"v":0.05},{"t":17.69,"v":0.38},{"t":17.70,"v":0.21},{"t":17.71,"v":0.13},{"t":17.72,"v":0.30},{"t":17.73,"v":0.48},{"t":17.74,"v":0.18},
{"t":17.76,"v":0.25},{"t":17.77,"v":0.14},{"t":17.78,"v":0.36},{"t":17.79,"v":0.20},{"t":17.80,"v":0.31},{"t":17.81,"v":0.09},{"t":17.82,"v":0.42},{"t":17.83,"v":0.23},{"t":17.84,"v":0.16},{"t":17.85,"v":0.28},{"t":17.86,"v":0.34},{"t":17.87,"v":0.12},{"t":17.88,"v":0.19},{"t":17.89,"v":0.46},{"t":17.90,"v":0.26},{"t":17.91,"v":0.07},{"t":17.92,"v":0.32},{"t":17.93,"v":0.21},{"t":17.94,"v":0.38},{"t":17.95,"v":0.15},{"t":17.96,"v":0.27},{"t":17.97,"v":0.11},{"t":17.98,"v":0.24},{"t":17.99,"v":0.40},{"t":17.86,"v":0.03},
{"t":18.01,"v":0.19},{"t":18.02,"v":0.29},{"t":18.03,"v":0.13},{"t":18.04,"v":0.37},{"t":18.05,"v":0.23},{"t":18.06,"v":0.08},{"t":18.07,"v":0.31},{"t":18.08,"v":0.17},{"t":18.09,"v":0.45},{"t":18.10,"v":0.26},{"t":18.11,"v":0.14},{"t":18.12,"v":0.34},{"t":18.13,"v":0.21},{"t":18.14,"v":0.10},{"t":18.15,"v":0.28},{"t":18.16,"v":0.39},{"t":18.17,"v":0.16},{"t":18.18,"v":0.24},{"t":18.19,"v":0.05},{"t":18.20,"v":0.32},{"t":18.21,"v":0.20},{"t":18.22,"v":0.43},{"t":18.23,"v":0.12},{"t":18.24,"v":0.27},{"t":18.11,"v":0.49},
{"t":18.26,"v":0.22},{"t":18.27,"v":0.35},{"t":18.28,"v":0.11},{"t":18.29,"v":0.27},{"t":18.30,"v":0.17},{"t":18.31,"v":0.40},{"t":18.32,"v":0.25},{"t":18.33,"v":0.07},{"t":18.34,"v":0.31},{"t":18.35,"v":0.19},{"t":18.36,"v":0.14},{"t":18.37,"v":0.36},{"t":18.38,"v":0.23},{"t":18.39,"v":0.47},{"t":18.40,"v":0.29},{"t":18.41,"v":0.10},{"t":18.42,"v":0.20},{"t":18.43,"v":0.33},{"t":18.44,"v":0.15},{"t":18.45,"v":0.26},{"t":18.46,"v":0.41},{"t":18.47,"v":0.12},{"t":18.48,"v":0.24},{"t":18.49,"v":0.04},{"t":18.37,"v":0.30},
{"t":18.51,"v":0.28},{"t":18.52,"v":0.16},{"t":18.53,"v":0.37},{"t":18.54,"v":0.09},{"t":18.55,"v":0.23},{"t":18.56,"v":0.32},{"t":18.57,"v":0.13},{"t":18.58,"v":0.44},{"t":18.59,"v":0.20},{"t":18.60,"v":0.26},{"t":18.61,"v":0.06},{"t":18.62,"v":0.35},{"t":18.63,"v":0.18},{"t":18.64,"v":0.29},{"t":18.65,"v":0.11},{"t":18.66,"v":0.39},{"t":18.67,"v":0.22},{"t":18.68,"v":0.15},{"t":18.69,"v":0.31},{"t":18.70,"v":0.48},{"t":18.71,"v":0.25},{"t":18.72,"v":0.08},{"t":18.73,"v":0.19},{"t":18.74,"v":0.34},{"t":18.62,"v":0.03},
{"t":18.76,"v":0.21},{"t":18.77,"v":0.12},{"t":18.78,"v":0.30},{"t":18.79,"v":0.41},{"t":18.80,"v":0.17},{"t":18.81,"v":0.26},{"t":18.82,"v":0.07},{"t":18.83,"v":0.36},{"t":18.84,"v":0.23},{"t":18.85,"v":0.14},{"t":18.86,"v":0.33},{"t":18.87,"v":0.19},{"t":18.88,"v":0.45},{"t":18.89,"v":0.28},{"t":18.90,"v":0.10},{"t":18.91,"v":0.24},{"t":18.92,"v":0.38},{"t":18.93,"v":0.16},{"t":18.94,"v":0.31},{"t":18.95,"v":0.13},{"t":18.96,"v":0.22},{"t":18.97,"v":0.43},{"t":18.98,"v":0.27},{"t":18.99,"v":0.05},
{"t":19.01,"v":0.18},{"t":19.02,"v":0.33},{"t":19.03,"v":0.25},{"t":19.04,"v":0.11},{"t":19.05,"v":0.39},{"t":19.06,"v":0.21},{"t":19.07,"v":0.29},{"t":19.08,"v":0.14},{"t":19.09,"v":0.47},{"t":19.10,"v":0.23},{"t":19.11,"v":0.08},{"t":19.12,"v":0.35},{"t":19.13,"v":0.19},{"t":19.14,"v":0.27},{"t":19.15,"v":0.42},{"t":19.16,"v":0.12},{"t":19.17,"v":0.31},{"t":19.18,"v":0.16},{"t":19.19,"v":0.24},{"t":19.20,"v":0.06},{"t":19.21,"v":0.37},{"t":19.22,"v":0.20},{"t":19.23,"v":0.29},{"t":19.24,"v":0.13},
{"t":19.26,"v":0.26},{"t":19.27,"v":0.15},{"t":19.28,"v":0.34},{"t":19.29,"v":0.21},{"t":19.30,"v":0.09},{"t":19.31,"v":0.40},{"t":19.32,"v":0.18},{"t":19.33,"v":0.28},{"t":19.34,"v":0.12},{"t":19.35,"v":0.45},{"t":19.36,"v":0.24},{"t":19.37,"v":0.31},{"t":19.38,"v":0.17},{"t":19.39,"v":0.07},{"t":19.40,"v":0.36},{"t":19.41,"v":0.22},{"t":19.42,"v":0.14},{"t":19.43,"v":0.29},{"t":19.44,"v":0.49},{"t":19.45,"v":0.19},{"t":19.46,"v":0.33},{"t":19.47,"v":0.10},{"t":19.48,"v":0.25},{"t":19.49,"v":0.03},
{"t":19.51,"v":0.20},{"t":19.52,"v":0.30},{"t":19.53,"v":0.13},{"t":19.54,"v":0.38},{"t":19.55,"v":0.24},{"t":19.56,"v":0.08},{"t":19.57,"v":0.33},{"t":19.58,"v":0.17},{"t":19.59,"v":0.27},{"t":19.60,"v":0.43},{"t":19.61,"v":0.11},{"t":19.62,"v":0.22},{"t":19.63,"v":0.35},{"t":19.64,"v":0.15},{"t":19.65,"v":0.29},{"t":19.66,"v":0.05},{"t":19.67,"v":0.40},{"t":19.68,"v":0.19},{"t":19.69,"v":0.26},{"t":19.70,"v":0.12},{"t":19.71,"v":0.32},{"t":19.72,"v":0.21},{"t":19.73,"v":0.46},{"t":19.74,"v":0.16},
{"t":19.76,"v":0.25},{"t":19.77,"v":0.14},{"t":19.78,"v":0.36},{"t":19.79,"v":0.09},{"t":19.80,"v":0.22},{"t":19.81,"v":0.31},{"t":19.82,"v":0.18},{"t":19.83,"v":0.41},{"t":19.84,"v":0.27},{"t":19.85,"v":0.11},{"t":19.86,"v":0.34},{"t":19.87,"v":0.20},{"t":19.88,"v":0.07},{"t":19.89,"v":0.29},{"t":19.90,"v":0.16},{"t":19.91,"v":0.38},{"t":19.92,"v":0.24},{"t":19.93,"v":0.13},{"t":19.94,"v":0.44},{"t":19.95,"v":0.21},{"t":19.96,"v":0.30},{"t":19.97,"v":0.04},{"t":19.98,"v":0.17},{"t":19.99,"v":0.26},
{"t":16.52,"v":0.22},{"t":16.57,"v":0.13},{"t":16.61,"v":0.30},{"t":16.66,"v":0.18},{"t":16.71,"v":0.25},{"t":16.75,"v":0.11},{"t":16.80,"v":0.33},{"t":16.84,"v":0.20},{"t":16.89,"v":0.15},{"t":16.93,"v":0.27},{"t":16.98,"v":0.09},{"t":17.02,"v":0.24},{"t":17.07,"v":0.31},{"t":17.11,"v":0.17},{"t":17.16,"v":0.21},{"t":17.20,"v":0.12},{"t":17.25,"v":0.29},{"t":17.29,"v":0.19},{"t":17.34,"v":0.25},{"t":17.38,"v":0.14},{"t":17.43,"v":0.34},{"t":17.47,"v":0.22},{"t":17.52,"v":0.10},{"t":17.56,"v":0.18},{"t":17.61,"v":0.27},{"t":17.65,"v":0.23},{"t":17.70,"v":0.15},{"t":17.74,"v":0.32},{"t":17.79,"v":0.12},{"t":17.83,"v":0.26},{"t":17.88,"v":0.20},{"t":17.92,"v":0.29},{"t":17.97,"v":0.17},{"t":18.01,"v":0.11},{"t":18.06,"v":0.24},{"t":18.10,"v":0.33},{"t":18.15,"v":0.19},{"t":18.19,"v":0.14},{"t":18.24,"v":0.22},{"t":18.28,"v":0.30},{"t":18.33,"v":0.16},{"t":18.37,"v":0.25},{"t":18.42,"v":0.12},{"t":18.46,"v":0.20},{"t":18.51,"v":0.35},{"t":18.55,"v":0.18},{"t":18.60,"v":0.23},{"t":18.64,"v":0.10},{"t":18.69,"v":0.27},{"t":18.73,"v":0.14},{"t":18.78,"v":0.21},{"t":18.82,"v":0.32},{"t":18.87,"v":0.17},{"t":18.91,"v":0.26},{"t":18.96,"v":0.11},{"t":19.00,"v":0.20},{"t":19.05,"v":0.28},{"t":19.09,"v":0.15},{"t":19.14,"v":0.23},{"t":19.18,"v":0.33},{"t":19.23,"v":0.18},{"t":19.27,"v":0.12},{"t":19.32,"v":0.25},{"t":19.36,"v":0.19},{"t":19.41,"v":0.30},{"t":19.45,"v":0.14},{"t":19.50,"v":0.22},{"t":19.54,"v":0.27},{"t":19.59,"v":0.10},{"t":19.63,"v":0.19},{"t":19.68,"v":0.31},{"t":19.72,"v":0.16},{"t":19.77,"v":0.24},{"t":19.81,"v":0.13},{"t":19.86,"v":0.28},{"t":19.90,"v":0.20},{"t":19.95,"v":0.17},{"t":19.99,"v":0.34},
{"t":20.08,"v":0.21},{"t":20.17,"v":0.13},{"t":20.27,"v":0.28},{"t":20.36,"v":0.19},{"t":20.45,"v":0.24},{"t":20.58,"v":0.15},{"t":20.67,"v":0.30},{"t":20.77,"v":0.18},{"t":20.89,"v":0.26},{"t":20.98,"v":0.12},{"t":21.05,"v":0.21},{"t":21.14,"v":0.29},{"t":21.23,"v":0.17},{"t":21.36,"v":0.24},{"t":21.45,"v":0.13},{"t":21.55,"v":0.31},{"t":21.64,"v":0.20},{"t":21.73,"v":0.16},{"t":21.86,"v":0.27},{"t":21.95,"v":0.22},{"t":22.05,"v":0.18},{"t":22.14,"v":0.25},{"t":22.23,"v":0.14},{"t":22.36,"v":0.31},{"t":22.45,"v":0.19},{"t":22.55,"v":0.22},{"t":22.64,"v":0.29},{"t":22.73,"v":0.15},{"t":22.86,"v":0.23},{"t":22.95,"v":0.17},{"t":23.05,"v":0.20},{"t":23.14,"v":0.27},{"t":23.23,"v":0.16},{"t":23.36,"v":0.24},{"t":23.45,"v":0.29},{"t":23.55,"v":0.18},{"t":23.64,"v":0.23},{"t":23.73,"v":0.14},{"t":23.86,"v":0.20},{"t":23.95,"v":0.25},
{"t":20.01,"v":0.19},{"t":20.03,"v":0.32},{"t":20.04,"v":0.12},{"t":20.06,"v":0.27},{"t":20.07,"v":0.40},{"t":20.09,"v":0.16},{"t":20.10,"v":0.23},{"t":20.12,"v":0.35},{"t":20.13,"v":0.08},{"t":20.15,"v":0.29},{"t":20.16,"v":0.20},{"t":20.18,"v":0.45},{"t":20.19,"v":0.14},{"t":20.21,"v":0.26},{"t":20.22,"v":0.37},{"t":20.24,"v":0.11},{"t":20.05,"v":0.03},{"t":20.20,"v":0.31},
{"t":20.26,"v":0.22},{"t":20.28,"v":0.13},{"t":20.29,"v":0.34},{"t":20.31,"v":0.26},{"t":20.32,"v":0.09},{"t":20.34,"v":0.41},{"t":20.35,"v":0.18},{"t":20.37,"v":0.30},{"t":20.38,"v":0.15},{"t":20.40,"v":0.38},{"t":20.41,"v":0.24},{"t":20.43,"v":0.11},{"t":20.44,"v":0.32},{"t":20.46,"v":0.20},{"t":20.47,"v":0.47},{"t":20.49,"v":0.28},{"t":20.30,"v":0.06},{"t":20.45,"v":0.36},
{"t":20.51,"v":0.17},{"t":20.53,"v":0.29},{"t":20.54,"v":0.39},{"t":20.56,"v":0.12},{"t":20.57,"v":0.24},{"t":20.59,"v":0.33},{"t":20.60,"v":0.08},{"t":20.62,"v":0.21},{"t":20.63,"v":0.44},{"t":20.65,"v":0.15},{"t":20.66,"v":0.27},{"t":20.68,"v":0.36},{"t":20.69,"v":0.19},{"t":20.71,"v":0.10},{"t":20.72,"v":0.31},{"t":20.74,"v":0.25},{"t":20.55,"v":0.48},{"t":20.70,"v":0.04},
{"t":20.76,"v":0.23},{"t":20.78,"v":0.35},{"t":20.79,"v":0.14},{"t":20.81,"v":0.27},{"t":20.82,"v":0.42},{"t":20.84,"v":0.18},{"t":20.85,"v":0.31},{"t":20.87,"v":0.09},{"t":20.88,"v":0.22},{"t":20.90,"v":0.38},{"t":20.91,"v":0.13},{"t":20.93,"v":0.29},{"t":20.94,"v":0.20},{"t":20.96,"v":0.46},{"t":20.97,"v":0.16},{"t":20.99,"v":0.33},{"t":20.80,"v":0.06},{"t":20.92,"v":0.25},
{"t":21.01,"v":0.28},{"t":21.03,"v":0.17},{"t":21.04,"v":0.37},{"t":21.06,"v":0.11},{"t":21.07,"v":0.24},{"t":21.09,"v":0.32},{"t":21.10,"v":0.19},{"t":21.12,"v":0.43},{"t":21.13,"v":0.14},{"t":21.15,"v":0.26},{"t":21.16,"v":0.08},{"t":21.18,"v":0.35},{"t":21.19,"v":0.21},{"t":21.21,"v":0.30},{"t":21.22,"v":0.40},{"t":21.24,"v":0.15},{"t":21.08,"v":0.49},{"t":21.17,"v":0.12},
{"t":21.26,"v":0.20},{"t":21.28,"v":0.33},{"t":21.29,"v":0.12},{"t":21.31,"v":0.25},{"t":21.32,"v":0.38},{"t":21.34,"v":0.17},{"t":21.35,"v":0.29},{"t":21.37,"v":0.09},{"t":21.38,"v":0.44},{"t":21.40,"v":0.22},{"t":21.41,"v":0.14},{"t":21.43,"v":0.31},{"t":21.44,"v":0.26},{"t":21.46,"v":0.36},{"t":21.47,"v":0.18},{"t":21.49,"v":0.11},{"t":21.30,"v":0.47},{"t":21.42,"v":0.06},
{"t":21.51,"v":0.27},{"t":21.53,"v":0.15},{"t":21.54,"v":0.35},{"t":21.56,"v":0.22},{"t":21.57,"v":0.41},{"t":21.59,"v":0.10},{"t":21.60,"v":0.30},{"t":21.62,"v":0.19},{"t":21.63,"v":0.13},{"t":21.65,"v":0.37},{"t":21.66,"v":0.24},{"t":21.68,"v":0.45},{"t":21.69,"v":0.16},{"t":21.71,"v":0.28},{"t":21.72,"v":0.08},{"t":21.74,"v":0.33},{"t":21.58,"v":0.21},{"t":21.70,"v":0.39},
{"t":21.76,"v":0.18},{"t":21.78,"v":0.29},{"t":21.79,"v":0.40},{"t":21.81,"v":0.12},{"t":21.82,"v":0.24},{"t":21.84,"v":0.34},{"t":21.85,"v":0.16},{"t":21.87,"v":0.47},{"t":21.88,"v":0.21},{"t":21.90,"v":0.09},{"t":21.91,"v":0.31},{"t":21.93,"v":0.26},{"t":21.94,"v":0.14},{"t":21.96,"v":0.38},{"t":21.97,"v":0.20},{"t":21.99,"v":0.43},{"t":21.80,"v":0.06},{"t":21.92,"v":0.35},
{"t":22.01,"v":0.23},{"t":22.03,"v":0.36},{"t":22.04,"v":0.13},{"t":22.06,"v":0.28},{"t":22.07,"v":0.19},{"t":22.09,"v":0.42},{"t":22.10,"v":0.10},{"t":22.12,"v":0.31},{"t":22.13,"v":0.25},{"t":22.15,"v":0.16},{"t":22.16,"v":0.38},{"t":22.18,"v":0.21},{"t":22.19,"v":0.46},{"t":22.21,"v":0.12},{"t":22.22,"v":0.29},{"t":22.24,"v":0.34},{"t":22.08,"v":0.07},{"t":22.17,"v":0.27},
{"t":22.26,"v":0.19},{"t":22.28,"v":0.30},{"t":22.29,"v":0.41},{"t":22.31,"v":0.15},{"t":22.32,"v":0.25},{"t":22.34,"v":0.35},{"t":22.35,"v":0.11},{"t":22.37,"v":0.22},{"t":22.38,"v":0.44},{"t":22.40,"v":0.17},{"t":22.41,"v":0.28},{"t":22.43,"v":0.37},{"t":22.44,"v":0.13},{"t":22.46,"v":0.32},{"t":22.47,"v":0.21},{"t":22.49,"v":0.08},{"t":22.33,"v":0.48},{"t":22.42,"v":0.26},
{"t":22.51,"v":0.26},{"t":22.53,"v":0.14},{"t":22.54,"v":0.33},{"t":22.56,"v":0.40},{"t":22.57,"v":0.20},{"t":22.59,"v":0.29},{"t":22.60,"v":0.10},{"t":22.62,"v":0.36},{"t":22.63,"v":0.17},{"t":22.65,"v":0.45},{"t":22.66,"v":0.23},{"t":22.68,"v":0.31},{"t":22.69,"v":0.12},{"t":22.71,"v":0.38},{"t":22.72,"v":0.19},{"t":22.74,"v":0.27},{"t":22.58,"v":0.07},{"t":22.70,"v":0.49},
{"t":22.76,"v":0.21},{"t":22.78,"v":0.34},{"t":22.79,"v":0.15},{"t":22.81,"v":0.42},{"t":22.82,"v":0.27},{"t":22.84,"v":0.09},{"t":22.85,"v":0.30},{"t":22.87,"v":0.18},{"t":22.88,"v":0.37},{"t":22.90,"v":0.24},{"t":22.91,"v":0.13},{"t":22.93,"v":0.46},{"t":22.94,"v":0.32},{"t":22.96,"v":0.20},{"t":22.97,"v":0.11},{"t":22.99,"v":0.39},{"t":22.80,"v":0.25},{"t":22.92,"v":0.06},
{"t":23.01,"v":0.29},{"t":23.03,"v":0.16},{"t":23.04,"v":0.40},{"t":23.06,"v":0.22},{"t":23.07,"v":0.34},{"t":23.09,"v":0.12},{"t":23.10,"v":0.26},{"t":23.12,"v":0.44},{"t":23.13,"v":0.19},{"t":23.15,"v":0.31},{"t":23.16,"v":0.09},{"t":23.18,"v":0.37},{"t":23.19,"v":0.23},{"t":23.21,"v":0.14},{"t":23.22,"v":0.28},{"t":23.24,"v":0.48},{"t":23.08,"v":0.35},{"t":23.20,"v":0.06},
{"t":23.26,"v":0.18},{"t":23.28,"v":0.33},{"t":23.29,"v":0.25},{"t":23.31,"v":0.11},{"t":23.32,"v":0.39},{"t":23.34,"v":0.21},{"t":23.35,"v":0.15},{"t":23.37,"v":0.30},{"t":23.38,"v":0.43},{"t":23.40,"v":0.08},{"t":23.41,"v":0.27},{"t":23.43,"v":0.36},{"t":23.44,"v":0.19},{"t":23.46,"v":0.13},{"t":23.47,"v":0.32},{"t":23.49,"v":0.24},{"t":23.33,"v":0.47},{"t":23.42,"v":0.05},
{"t":23.51,"v":0.22},{"t":23.53,"v":0.35},{"t":23.54,"v":0.14},{"t":23.56,"v":0.28},{"t":23.57,"v":0.41},{"t":23.59,"v":0.10},{"t":23.60,"v":0.19},{"t":23.62,"v":0.32},{"t":23.63,"v":0.25},{"t":23.65,"v":0.45},{"t":23.66,"v":0.16},{"t":23.68,"v":0.37},{"t":23.69,"v":0.08},{"t":23.71,"v":0.29},{"t":23.72,"v":0.21},{"t":23.74,"v":0.12},{"t":23.58,"v":0.48},{"t":23.70,"v":0.33},
{"t":23.76,"v":0.26},{"t":23.78,"v":0.15},{"t":23.79,"v":0.38},{"t":23.81,"v":0.20},{"t":23.82,"v":0.31},{"t":23.84,"v":0.11},{"t":23.85,"v":0.43},{"t":23.87,"v":0.24},{"t":23.88,"v":0.17},{"t":23.90,"v":0.34},{"t":23.91,"v":0.09},{"t":23.93,"v":0.28},{"t":23.94,"v":0.40},{"t":23.96,"v":0.13},{"t":23.97,"v":0.22},{"t":23.99,"v":0.30},{"t":23.80,"v":0.47},{"t":23.92,"v":0.18}
  ]},
  "resolve": {"axis": {"x": "independent", "y": "independent"}},
  "layer": [
    {
      "mark": {"type": "point", "opacity": 0},
      "encoding": {
        "x": {"field": "t", "type": "quantitative", "scale": {"domain": [0, 24], "nice": false},
              "axis": {"orient": "top", "values": [0, 2, 4, 6, 8, 10, 12, 14, 16, 18, 20, 22, 24], "labels": false, "grid": false, "title": null}},
        "y": {"field": "v", "type": "quantitative", "scale": {"domain": [0, 1.5], "nice": false},
              "axis": {"orient": "right", "values": [0, 0.5, 1, 1.5], "labels": false, "grid": false, "title": null}}
      }
    },
    {
      "mark": {"type": "point", "shape": "diamond", "filled": true, "fill": "#ff0000", "stroke": "#000000", "strokeWidth": 0.8, "size": 150, "opacity": 1},
      "encoding": {
        "x": {"field": "t", "type": "quantitative", "scale": {"domain": [0, 24], "nice": false},
              "axis": {"orient": "bottom", "values": [0, 2, 4, 6, 8, 10, 12, 14, 16, 18, 20, 22, 24], "grid": true, "labelPadding": 22,
                       "title": "Time of Day", "titleFontSize": 40, "titleX": 447, "titleY": 79, "titleAlign": "center", "titleBaseline": "alphabetic"}},
        "y": {"field": "v", "type": "quantitative", "scale": {"domain": [0, 1.5], "nice": false},
              "axis": {"orient": "left", "values": [0, 0.5, 1, 1.5], "format": "~g", "grid": true, "labelPadding": 17,
                       "title": "Crosswind RMS Difference (m/s)", "titleFontSize": 31, "titleX": -82, "titleY": 421, "titleAngle": 270, "titleAlign": "center", "titleBaseline": "middle"}}
      }
    }
  ]
}
